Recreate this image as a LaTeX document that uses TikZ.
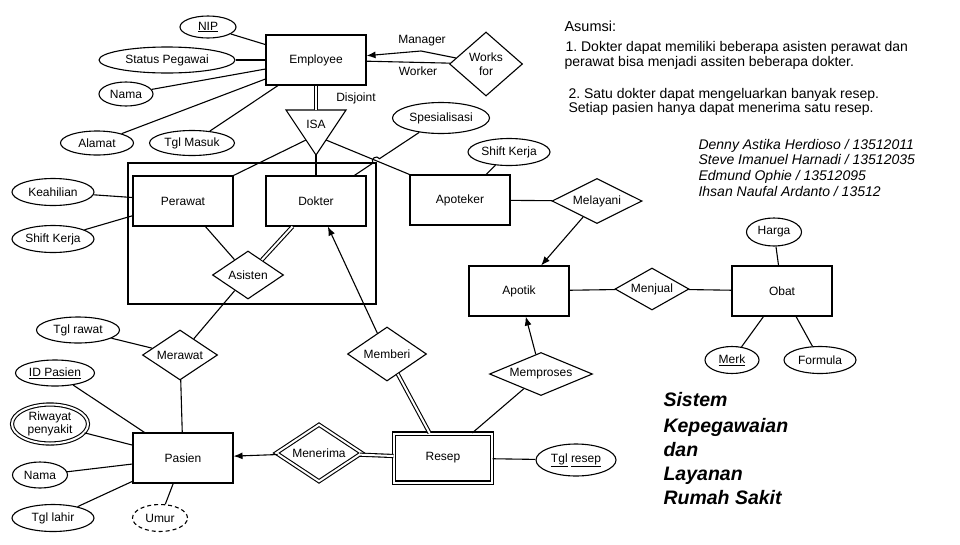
\documentclass[tikz,border=0pt]{standalone}
\usepackage{fontspec}
\setmainfont{Liberation Sans}
\usetikzlibrary{shapes.geometric,arrows.meta}
\frenchspacing

\tikzset{
  entity/.style={draw, rectangle, minimum width=100pt, minimum height=50pt, inner sep=0pt},
  weakentity/.style={entity, double, double distance=2pt, minimum width=98pt, minimum height=49pt},
  attr/.style={draw, ellipse, inner sep=0pt, align=center},
  rel/.style={draw, diamond, inner sep=0pt, align=center},
  twoline/.style={double, double distance=2pt},
  arr/.style={-{Latex[length=9pt,width=7pt]}},
  roletext/.style={inner sep=0pt},
  notetext/.style={anchor=base west, inner sep=0pt, font=\fontsize{14}{16}\selectfont},
  titletext/.style={anchor=base west, inner sep=0pt, font=\fontsize{19.5}{24}\selectfont\bfseries\itshape},
}

\begin{document}
\begin{tikzpicture}[x=1pt,y=1pt,yscale=-1,line width=1.1pt,font=\fontsize{12}{14}\selectfont]
\useasboundingbox (0,0) rectangle (960,544);

%Entities
\node[entity] (employee) at (316,60) {Employee};
\node[entity] (perawat) at (183,201) {Perawat};
\node[entity] (dokter) at (316,201) {Dokter};
\node[entity] (apoteker) at (460,200) {Apoteker};
\node[entity] (pasien) at (183,458) {Pasien};
\node[weakentity] (resep) at (443,458) {Resep};
\node[entity] (apotik) at (519,291) {Apotik};
\node[entity] (obat) at (782,291) {Obat};

%Aggregation box
\draw (128,163) rectangle (376,304);

%ISA triangle
\coordinate (isa1) at (286,110);
\coordinate (isa2) at (346,110);
\coordinate (isaB) at (316,155);
\coordinate (isaT) at (316,110);
\coordinate (isaL) at (306,140);
\coordinate (isaR) at (326,140);
\draw (isa1) -- (isa2) -- (isaB) -- cycle;
\node[roletext] (isa) at (316,124) {ISA};

%Relationships
\node[rel, aspect=1.14, minimum width=73pt, minimum height=64pt] (works) at (486,64) {Works\\for};
\node[rel, aspect=1.48, minimum width=71pt, minimum height=48pt] (asisten) at (248,275) {Asisten};
\node[rel, aspect=1.5, minimum width=75pt, minimum height=50pt] (merawat) at (180,355) {Merawat};
\node[rel, aspect=1.46, minimum width=79pt, minimum height=54pt] (memberi) at (387,354) {Memberi};
\node[rel, aspect=1.5, minimum width=86pt, minimum height=57pt, double, double distance=2pt] (menerima) at (319,453) {Menerima};
\node[rel, aspect=2.4, minimum width=103pt, minimum height=43pt] (memproses) at (541,374) {Memproses};
\node[rel, aspect=2, minimum width=90pt, minimum height=45pt] (melayani) at (597,201) {Melayani};
\node[rel, aspect=1.76, minimum width=74pt, minimum height=42pt] (menjual) at (652,289) {Menjual};

%Attributes
\node[attr, minimum width=56pt, minimum height=22pt] (nip) at (208,27) {\underline{NIP}};
\node[attr, minimum width=136pt, minimum height=26pt] (status) at (167,60) {Status Pegawai};
\node[attr, minimum width=54pt, minimum height=24pt] (namaE) at (126,94) {Nama};
\node[attr, minimum width=73pt, minimum height=24pt] (alamat) at (97,143) {Alamat};
\node[attr, minimum width=85pt, minimum height=25pt] (tglmasuk) at (192,143) {Tgl Masuk};
\node[attr, minimum width=97pt, minimum height=31pt] (spes) at (441,118) {Spesialisasi};
\node[attr, minimum width=82pt, minimum height=27pt] (shiftA) at (509,152) {Shift Kerja};
\node[attr, minimum width=82pt, minimum height=27pt] (keahlian) at (53,192) {Keahilian};
\node[attr, minimum width=82pt, minimum height=27pt] (shiftP) at (53,239) {Shift Kerja};
\node[attr, minimum width=83pt, minimum height=26pt] (tglrawat) at (78,330) {Tgl rawat};
\node[attr, minimum width=79pt, minimum height=26pt] (idpasien) at (55,373) {\underline{ID Pasien}};
\node[attr, minimum width=76pt, minimum height=39pt, double, double distance=2pt, font=\fontsize{12}{13}\selectfont] (riwayat) at (50,424) {Riwayat\\penyakit};
\node[attr, minimum width=55pt, minimum height=26pt] (namaP) at (40,475) {Nama};
\node[attr, minimum width=82pt, minimum height=27pt] (tgllahir) at (53,518) {Tgl lahir};
\node[attr, minimum width=55pt, minimum height=27pt, dash pattern=on 4pt off 3pt] (umur) at (160,518) {Umur};
\node[attr, minimum width=80pt, minimum height=32pt] (tglresep) at (576,460) {\underline{Tgl} \underline{resep}};
\node[attr, minimum width=55pt, minimum height=28pt] (harga) at (774,232) {Harga};
\node[attr, minimum width=54pt, minimum height=27pt] (merk) at (732,360) {\underline{Merk}};
\node[attr, minimum width=72pt, minimum height=27pt] (formula) at (820,360) {Formula};

%Employee attributes
\draw (nip) -- (employee);
\draw (status) -- (employee);
\draw (namaE) -- (employee);
\draw (alamat) -- (employee.south west |- 0,79);
\draw (tglmasuk) -- (employee.south west -| 278,0);

%Works for
\coordinate (mgrkink) at (421,51);
\draw[arr] (works) -- (mgrkink) -- (employee);
\draw (works) -- (employee);
\node[roletext] (manager) at (422,41) {Manager};
\node[roletext] (worker) at (418,71) {Worker};

%ISA
\draw[twoline] (employee.south) -- (isaT);
\node[roletext] (disjoint) at (356,98) {Disjoint};
\draw (isaL) -- (perawat.north east);
\draw (isaB) -- (dokter.north);
\draw (isaR) -- (apoteker.north west);

%Spesialisasi with line hop
\coordinate (hopA) at (379.5,158.7);
\coordinate (hopB) at (372.9,163.1);
\draw (spes) -- (hopA) .. controls (376.7,154.5) and (370.1,158.9) .. (hopB) -- (dokter);
\draw (shiftA) -- (apoteker);

%Perawat and Dokter
\draw (keahlian) -- (perawat);
\draw (shiftP) -- (perawat);
\draw (perawat) -- (asisten);
\draw[twoline] (dokter) -- (asisten);

%Merawat and Pasien
\draw (asisten) -- (merawat);
\draw (tglrawat) -- (merawat);
\draw (merawat) -- (pasien);
\draw (idpasien) -- (pasien);
\draw (riwayat) -- (pasien);
\draw (namaP) -- (pasien);
\draw (tgllahir) -- (pasien);
\draw (umur) -- (pasien);

%Resep
\draw[arr] (menerima) -- (pasien);
\draw[twoline] (menerima) -- (resep);
\draw[arr] (memberi) -- (dokter);
\draw[twoline] (memberi) -- (resep);
\draw (resep) -- (tglresep);
\draw[arr] (memproses) -- (apotik);
\draw (memproses) -- (resep);

%Apotik and Obat
\draw (apoteker) -- (melayani);
\draw[arr] (melayani) -- (apotik);
\draw (apotik) -- (menjual);
\draw (menjual) -- (obat);
\draw (harga) -- (obat);
\draw (obat) -- (merk);
\draw (obat) -- (formula);

% Text Node
\node[notetext, font=\fontsize{14.5}{16}\selectfont] (asumsi) at (564,31) {Asumsi:};
\node[notetext] (note1a) at (565,51.7) {1. Dokter dapat memiliki beberapa asisten perawat dan};
\node[notetext] (note1b) at (564,66) {perawat bisa menjadi assiten beberapa dokter.};
\node[notetext] (note2a) at (568,98.3) {2. Satu dokter dapat mengeluarkan banyak resep.};
\node[notetext] (note2b) at (568,112.3) {Setiap pasien hanya dapat menerima satu resep.};
% Text Node
\node[notetext, font=\fontsize{14}{16}\selectfont\itshape] (name1) at (698,149) {Denny Astika Herdioso / 13512011};
\node[notetext, font=\fontsize{14}{16}\selectfont\itshape] (name2) at (698,164.7) {Steve Imanuel Harnadi / 13512035};
\node[notetext, font=\fontsize{14}{16}\selectfont\itshape] (name3) at (698,180.3) {Edmund Ophie / 13512095};
\node[notetext, font=\fontsize{14}{16}\selectfont\itshape] (name4) at (698,196) {Ihsan Naufal Ardanto / 13512};
% Text Node
\node[titletext] (title1) at (663,406.7) {Sistem};
\node[titletext] (title2) at (663,432) {Kepegawaian};
\node[titletext] (title3) at (663,456) {dan};
\node[titletext] (title4) at (663,480) {Layanan};
\node[titletext] (title5) at (663,504) {Rumah Sakit};

\end{tikzpicture}
\end{document}
